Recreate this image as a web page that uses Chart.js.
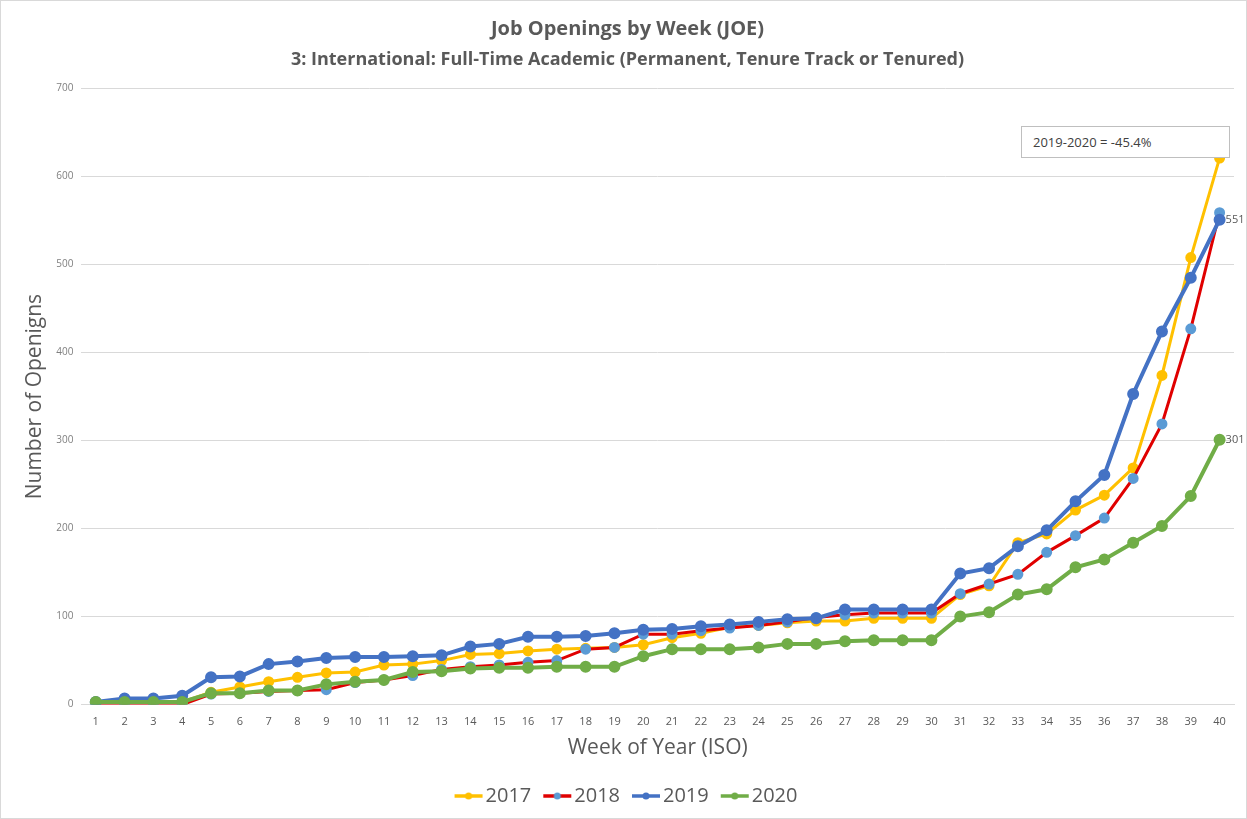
<!DOCTYPE html>
<html lang="en">
<head>
    <meta charset="UTF-8">
    <title>Job Openings by Week (JOE)</title>
    <script src="https://cdn.jsdelivr.net/npm/chart.js@4.4.1/dist/chart.umd.min.js"></script>
    <style>
        body { margin: 0; background: #fff; }
        #wrap { position: relative; width: 1245px; height: 817px; border: 1px solid #d9d9d9; }
        #note {
            position: absolute; left: 1020px; top: 125px; width: 196px; height: 30px;
            padding-left: 11px; line-height: 30px; background: #fff; border: 1px solid #bfbfbf;
            font-family: "Open Sans", sans-serif; font-size: 13px; color: #404040;
        }
    </style>
</head>
<body>
    <div id="wrap">
        <canvas id="chart" width="1245" height="817"></canvas>
        <div id="note">2019-2020 = -45.4%</div>
    </div>
    <script>
        // week numbers on the x axis
        const weeks = [];
        for (let i = 1; i <= 40; i++) weeks.push(String(i));

        const y2017 = [3, 3, 3, 3, 14, 20, 26, 31, 36, 37, 45, 46, 50, 57, 58, 61, 63, 64, 65, 68,
                       76, 81, 88, 90, 93, 95, 95, 98, 98, 98, 125, 135, 184, 194, 221, 238, 269, 374, 508, 621];
        const y2018 = [0, 0, 0, 0, 12, 13, 15, 16, 17, 25, 28, 33, 40, 43, 45, 48, 50, 63, 65, 80,
                       80, 84, 87, 90, 94, 99, 102, 104, 104, 104, 126, 137, 148, 173, 192, 212, 257, 319, 427, 559];
        const y2019 = [3, 7, 7, 10, 31, 32, 46, 49, 53, 54, 54, 55, 56, 66, 69, 77, 77, 78, 81, 85,
                       86, 89, 91, 94, 97, 98, 108, 108, 108, 108, 149, 155, 180, 198, 231, 261, 353, 424, 485, 551];
        const y2020 = [3, 3, 3, 3, 13, 13, 16, 16, 23, 26, 28, 37, 38, 41, 42, 42, 43, 43, 43, 55,
                       63, 63, 63, 65, 69, 69, 72, 73, 73, 73, 100, 105, 125, 131, 156, 165, 184, 203, 237, 301];
        const yTicks = [0, 100, 200, 300, 400, 500, 600, 700];

        const grey = '#595959';
        const font = '"Open Sans", sans-serif';

        // legend swatch: short line with a dot in the middle
        // (drawn right of centre so it sits close to the label text)
        function swatch(lineCol, dotCol) {
            const c = document.createElement('canvas');
            c.width = 36; c.height = 10;
            const g = c.getContext('2d');
            g.strokeStyle = lineCol; g.lineWidth = 3.5;
            g.beginPath(); g.moveTo(6, 5); g.lineTo(34, 5); g.stroke();
            g.fillStyle = dotCol;
            g.beginPath(); g.arc(20, 5, 3.5, 0, Math.PI * 2); g.fill();
            return c;
        }

        function series(label, data, line, dot, width, order) {
            return {
                label: label, data: data, order: order,
                borderColor: line, backgroundColor: dot,
                pointBackgroundColor: dot, pointBorderColor: dot,
                borderWidth: width, pointRadius: 4, pointHoverRadius: 4,
                tension: 0, swatch: swatch(line, dot)
            };
        }

        // values printed after the last point of 2019 and 2020
        const endLabels = {
            id: 'endLabels',
            afterDatasetsDraw(chart) {
                const ctx = chart.ctx;
                ctx.save();
                ctx.font = '11px ' + font;
                ctx.fillStyle = grey;
                ctx.textBaseline = 'middle';
                chart.data.datasets.forEach((ds, i) => {
                    if (!ds.endLabel) return;
                    const pts = chart.getDatasetMeta(i).data;
                    const p = pts[pts.length - 1];
                    ctx.fillText(ds.data[ds.data.length - 1], p.x + 6, p.y);
                });
                ctx.restore();
            }
        };

        const d17 = series('2017', y2017, '#FFC000', '#FFC000', 3, 3);
        const d18 = series('2018', y2018, '#E00000', '#5B9BD5', 3, 2);
        const d19 = series('2019', y2019, '#4472C4', '#4472C4', 4, 1);
        const d20 = series('2020', y2020, '#70AD47', '#70AD47', 4, 0);
        d19.endLabel = true;
        d20.endLabel = true;

        new Chart(document.getElementById('chart'), {
            type: 'line',
            data: { labels: weeks, datasets: [d17, d18, d19, d20] },
            plugins: [endLabels],
            options: {
                responsive: false,
                animation: false,
                layout: { padding: { left: 20, right: 12, top: 4, bottom: 2 } },
                plugins: {
                    title: {
                        display: true, text: 'Job Openings by Week (JOE)', color: grey,
                        font: { family: font, size: 20, weight: 'bold' }, padding: { top: 12, bottom: 8 }
                    },
                    subtitle: {
                        display: true, text: '3: International: Full-Time Academic (Permanent, Tenure Track or Tenured)',
                        color: grey, font: { family: font, size: 18, weight: 'bold' }, padding: { bottom: 18 }
                    },
                    legend: {
                        position: 'bottom',
                        labels: {
                            color: grey, font: { family: font, size: 20 },
                            usePointStyle: true, pointStyleWidth: 18, boxHeight: 10, padding: 15,
                            sort: (a, b) => a.datasetIndex - b.datasetIndex,
                            generateLabels(chart) {
                                return chart.data.datasets.map((ds, i) => ({
                                    text: ds.label, datasetIndex: i, pointStyle: ds.swatch,
                                    fontColor: grey, strokeStyle: ds.borderColor, fillStyle: ds.borderColor,
                                    lineWidth: 0, hidden: false
                                }));
                            }
                        }
                    },
                    tooltip: { enabled: false }
                },
                scales: {
                    x: {
                        offset: true,
                        grid: { display: false },
                        border: { color: '#d9d9d9' },
                        ticks: { color: grey, font: { family: font, size: 11 }, maxRotation: 0, autoSkip: false },
                        title: { display: true, text: 'Week of Year (ISO)', color: grey, font: { family: font, size: 21 }, padding: { top: 4, bottom: 10 } }
                    },
                    y: {
                        min: 0, max: 700,
                        afterBuildTicks(scale) { scale.ticks = yTicks.map(v => ({ value: v })); },
                        grid: { color: '#d9d9d9', drawTicks: false },
                        border: { display: false },
                        ticks: { color: '#7f7f7f', font: { family: font, size: 10 }, padding: 8 },
                        title: { display: true, text: 'Number of Openigns', color: grey, font: { family: font, size: 21 }, padding: { top: 1, bottom: 1 } }
                    }
                }
            }
        });
    </script>
</body>
</html>
